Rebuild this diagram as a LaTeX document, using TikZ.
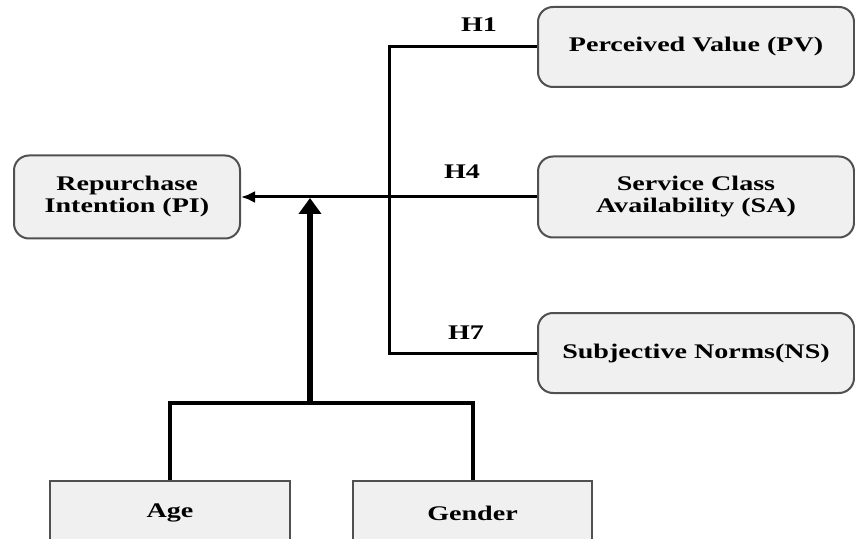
\documentclass[tikz,border=0pt]{standalone}
\usepackage{fontspec}
\setmainfont{Liberation Serif}[FakeStretch=1.35]
\usetikzlibrary{arrows.meta}
\definecolor{boxfill}{HTML}{F0F0F0}
\definecolor{boxline}{HTML}{505050}
\begin{document}
\begin{tikzpicture}[x=0.5pt,y=-0.5pt,
  every node/.style={font=\fontsize{10.4}{11}\selectfont\bfseries, inner sep=0pt},
  rbox/.style={draw=boxline, fill=boxfill, line width=1pt, rounded corners=7.5pt, align=center},
  sbox/.style={draw=boxline, fill=boxfill, line width=1pt, align=center},
  link/.style={line width=1.5pt, black},
  mlink/.style={line width=2pt, black},
  hlabel/.style={font=\fontsize{10.4}{11}\selectfont\bfseries}]
\clip (0,0) rectangle (855,539);
\fill[white] (0,0) rectangle (855,539);
% boxes
\node[rbox, minimum width=158pt, minimum height=40pt] (pv) at (696,47) {Perceived Value (PV)};
\node[rbox, minimum width=158pt, minimum height=40.5pt] (sa) at (696,197) {Service Class\\Availability (SA)};
\node[rbox, minimum width=158pt, minimum height=40pt] (ns) at (696,353) {Subjective Norms(NS)};
\node[rbox, minimum width=113pt, minimum height=41.5pt] (pi) at (127,197) {Repurchase\\Intention (PI)};
\node[sbox, minimum width=120pt, minimum height=32pt] (age) at (170,513) {Age};
\node[sbox, minimum width=119.5pt, minimum height=32pt] (gender) at (472.5,513) {Gender};
% junction coordinates
\coordinate (jx) at (389,0);
\coordinate (mid) at (310,403);
\coordinate (tip) at (310,198);
% H1/H7 bracket
\draw[link] (pv.west) -- (pv.west -| jx) -- (ns.west -| jx) -- (ns.west);
% H4 arrow
\draw[link, -{Latex[length=7pt,width=6pt]}] (sa.west) -- (pi.east);
% moderators
\draw[mlink] (age.north) -- (age.north |- mid) -- (gender.north |- mid) -- (gender.north);
\draw[line width=3pt, -{Triangle[length=8pt,width=11pt]}] (mid) -- (tip);
% labels
\node[hlabel] (h1) at (479,25) {H1};
\node[hlabel] (h4) at (462,172) {H4};
\node[hlabel] (h7) at (466,333) {H7};
\end{tikzpicture}
\end{document}
